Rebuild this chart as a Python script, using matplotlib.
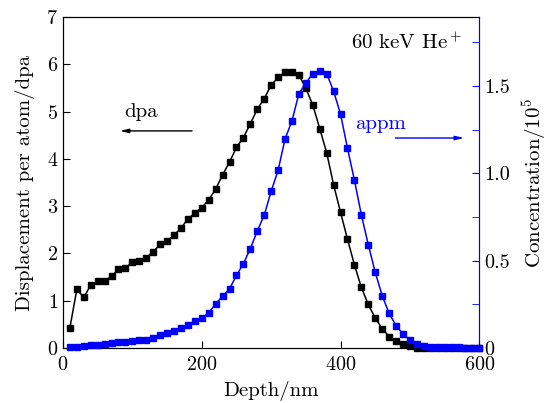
import numpy as np
import matplotlib
matplotlib.use("Agg")
import matplotlib.pyplot as plt

plt.rcParams['font.family'] = 'serif'
plt.rcParams['font.serif'] = ['cmr10', 'DejaVu Serif']
plt.rcParams['mathtext.fontset'] = 'cm'
plt.rcParams['axes.formatter.use_mathtext'] = True

# profondeur (nm)
depth = np.arange(10, 610, 10)

# dpa (axe de gauche)
dpa = [0.43, 1.24, 1.07, 1.33, 1.41, 1.41, 1.52, 1.66, 1.70, 1.81,
       1.83, 1.91, 2.04, 2.19, 2.26, 2.39, 2.53, 2.73, 2.85, 2.97,
       3.13, 3.36, 3.66, 3.93, 4.24, 4.45, 4.74, 5.05, 5.27, 5.56,
       5.72, 5.83, 5.83, 5.77, 5.49, 5.14, 4.64, 4.13, 3.45, 2.87,
       2.30, 1.76, 1.28, 0.92, 0.63, 0.41, 0.24, 0.15, 0.08, 0.04,
       0.01, 0.0, 0.0, 0.0, 0.0, 0.0, 0.0, 0.0, 0.0, 0.0]

# concentration He (1e5 appm, axe de droite)
appm = [0.004, 0.007, 0.011, 0.015, 0.017, 0.023, 0.027, 0.032, 0.036, 0.040,
        0.045, 0.047, 0.059, 0.074, 0.083, 0.095, 0.115, 0.134, 0.152, 0.172,
        0.201, 0.252, 0.297, 0.339, 0.415, 0.483, 0.568, 0.670, 0.760, 0.897,
        1.017, 1.196, 1.300, 1.456, 1.516, 1.571, 1.585, 1.571, 1.470, 1.339,
        1.143, 0.961, 0.762, 0.591, 0.433, 0.300, 0.198, 0.128, 0.080, 0.044,
        0.023, 0.013, 0.007, 0.005, 0.004, 0.003, 0.003, 0.002, 0.002, 0.002]

xticks = [0, 200, 400, 600]
yticks_left = [0, 1, 2, 3, 4, 5, 6, 7]
yticks_right = [0, 0.5, 1.0, 1.5]

blue = '#0000ff'
fs = 15

fig = plt.figure(figsize=(5.5, 4.03), dpi=100)
ax = fig.add_axes([0.1145, 0.1365, 0.757, 0.8215])
ax.plot(depth, dpa, color='black', lw=1.1, marker='s', ms=4.7, clip_on=False, zorder=3)
ax.set_xlim(0, 600)
ax.set_ylim(0, 7)
ax.set_xticks(xticks)
ax.set_yticks(yticks_left)
ax.tick_params(direction='in', length=5, labelsize=14.5, top=False)
ax.tick_params(axis='x', pad=5.5)
ax.set_xlabel('Depth/nm', fontsize=fs, labelpad=5)
ax.set_ylabel('Displacement per atom/dpa', fontsize=fs, labelpad=8)

ax2 = ax.twinx()
ax2.plot(depth, appm, color=blue, lw=1.1, marker='s', ms=4.7, clip_on=False, zorder=3)
ax2.set_ylim(0, 1.895)
ax2.set_yticks(yticks_right)
ax2.set_yticks([0.25, 0.75, 1.25, 1.75], minor=True)
ax2.set_yticklabels(['0', '0.5', '1.0', '1.5'])
ax2.tick_params(axis='y', which='both', direction='in', length=5, colors=blue,
                labelcolor='black', labelsize=14.5)
ax2.spines['right'].set_color(blue)
ax2.set_ylabel('Concentration/10$^5$', fontsize=fs, labelpad=8)

ax.text(415, 6.45, '60 keV He$^+$', fontsize=fs, va='center')
ax.text(88, 4.99, 'dpa', fontsize=fs, va='center')
ax.annotate('', xy=(78, 4.59), xytext=(190, 4.59),
            arrowprops=dict(arrowstyle='-|>,head_length=0.5,head_width=0.12',
                            color='black', lw=1))
ax.text(421, 4.73, 'appm', fontsize=fs, va='center', color=blue)
ax.annotate('', xy=(582, 4.44), xytext=(475, 4.44),
            arrowprops=dict(arrowstyle='-|>,head_length=0.5,head_width=0.12',
                            color=blue, lw=1))

fig.savefig('out.png', dpi=100)
